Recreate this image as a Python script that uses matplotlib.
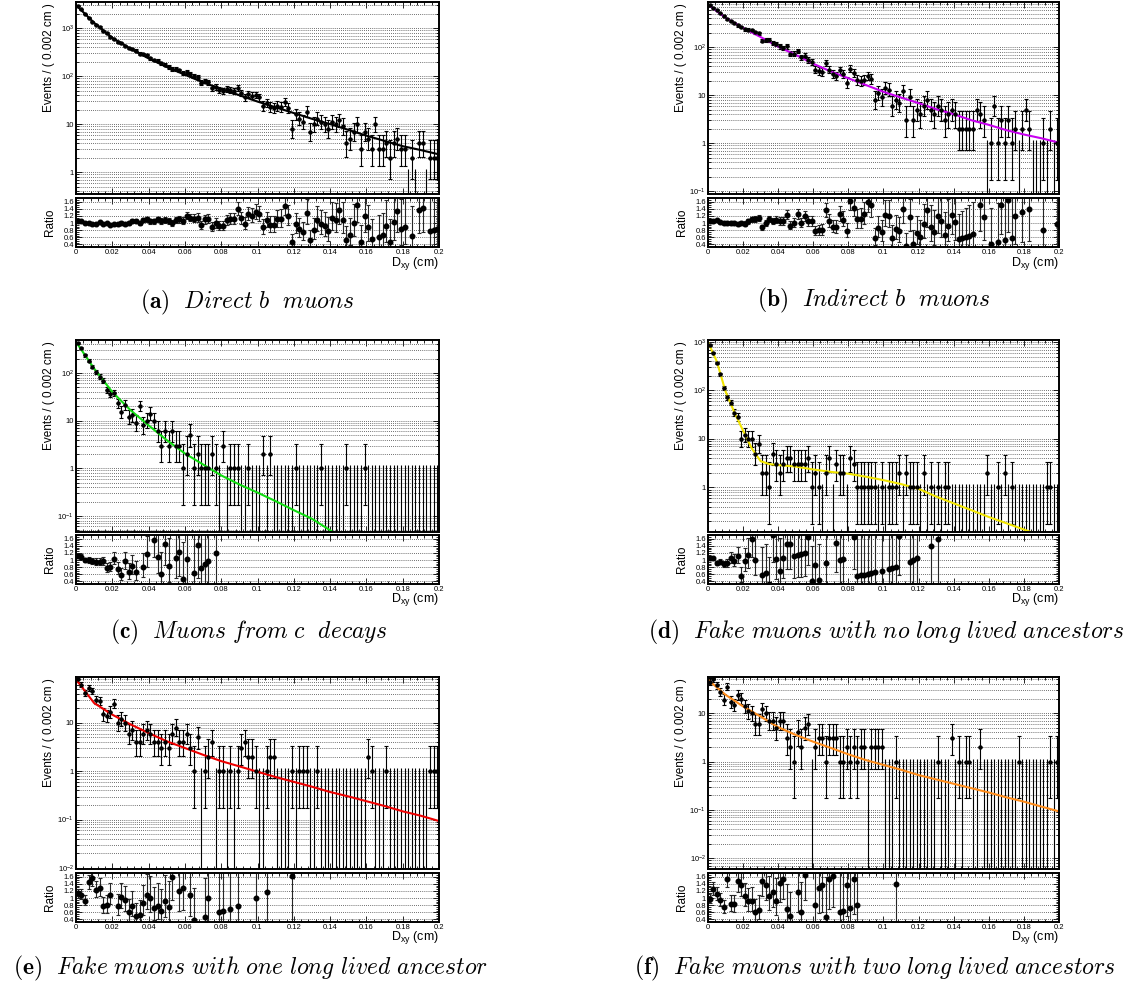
import math
import numpy as np
import matplotlib
matplotlib.use("Agg")
import matplotlib.pyplot as plt
from matplotlib.ticker import MultipleLocator, LogLocator, FuncFormatter, NullFormatter

plt.rcParams['font.family'] = ['Liberation Sans', 'DejaVu Sans']
plt.rcParams['mathtext.fontset'] = 'custom'
plt.rcParams['mathtext.rm'] = 'Liberation Sans'
plt.rcParams['mathtext.it'] = 'Liberation Sans:italic'
plt.rcParams['mathtext.bf'] = 'Liberation Sans:bold'

W, H = 1136, 994
bin_width = 0.002
n_bins = 100

# fit curves are sampled every 0.01 cm
fit_x = [0.0, 0.01, 0.02, 0.03, 0.04, 0.05, 0.06, 0.07, 0.08, 0.09, 0.10,
         0.11, 0.12, 0.13, 0.14, 0.15, 0.16, 0.17, 0.18, 0.19, 0.20]
# panel (d) has a sharp knee, so it is sampled finer at small D_xy
fit_x_d = [0.0, 0.005, 0.01, 0.015, 0.02, 0.025, 0.03, 0.035, 0.04, 0.05, 0.06,
           0.07, 0.08, 0.09, 0.10, 0.11, 0.12, 0.13, 0.14, 0.15, 0.16, 0.17,
           0.18, 0.19, 0.20]

# (a) direct b muons
counts_a = [2910, 2460, 1970, 1660, 1370, 1176, 1061, 882, 782, 644,
            580, 522, 484, 423, 392, 373, 340, 295, 291, 270,
            236, 217, 210, 184, 174, 156, 139, 139, 132, 117,
            124, 110, 100, 95, 73, 79, 75, 57, 59, 51,
            48, 53, 52, 49, 57, 44, 36, 43, 39, 40,
            36, 24, 28, 23, 22, 24, 23, 29, 22, 8,
            16, 13, 11, 18, 7, 10, 13, 11, 10, 8,
            11, 10, 12, 9, 4, 5, 7, 10, 3, 7,
            5, 3, 10, 3, 3, 4, 2, 4, 5, 3,
            3, 0, 2, 0, 4, 4, 0, 2, 2, 2]
fit_a = [3020, 1290, 630, 372, 234, 155, 107, 74, 54, 40, 29.5,
         22.4, 17, 12.9, 10, 7.6, 5.75, 4.47, 3.47, 2.88, 2.34]

# (b) indirect b muons
counts_b = [756, 666, 603, 502, 434, 388, 352, 320, 284, 264,
            235, 231, 222, 204, 194, 136, 141, 142, 123, 116,
            103, 96, 103, 72, 72, 83, 61, 66, 54, 49,
            34, 32, 30, 47, 34, 27, 25, 33, 27, 18,
            35, 29, 21, 20, 21, 25, 22, 8, 11, 9,
            14, 13, 6, 8, 7, 12, 3, 9, 3, 5,
            4, 6, 8, 5, 4, 6, 5, 3, 4, 5,
            4, 2, 2, 2, 2, 2, 5, 4, 3, 0,
            1, 6, 1, 3, 1, 3, 1, 2, 0, 2,
            5, 2, 0, 0, 0, 1, 0, 2, 0, 1]
fit_b = [770, 407, 251, 162, 102, 69, 45, 31, 22.4, 16.2, 11.7,
         8.9, 6.8, 5.1, 4.0, 3.0, 2.4, 1.86, 1.51, 1.26, 1.02]

# (c) muons from c decays
counts_c = [432, 333, 234, 181, 136, 104, 83, 68, 44, 36,
            38, 23, 15, 21, 12, 13, 9, 20, 8, 10,
            14, 10, 6, 3, 6, 3, 6, 3, 3, 1,
            2, 5, 1, 2, 1, 1, 1, 2, 1, 0,
            3, 0, 1, 1, 1, 0, 0, 1, 0, 0,
            0, 2, 0, 2, 0, 0, 0, 0, 0, 0,
            1, 0, 0, 0, 0, 0, 0, 1, 0, 0,
            0, 0, 0, 0, 1, 0, 0, 0, 0, 1,
            0, 0, 0, 0, 0, 0, 0, 0, 0, 0,
            0, 0, 0, 0, 0, 0, 0, 0, 0, 0]
fit_c = [447, 123, 39.8, 16.6, 7.94, 3.89, 2.04, 1.20, 0.708, 0.457, 0.309,
         0.204, 0.132, 0.0871, 0.0501, 0.0282, 0.0151, 0.00794, 0.00417,
         0.00219, 0.00112]

# (d) fake muons, no long lived ancestors
counts_d = [870, 604, 366, 214, 112, 72, 56, 35, 28, 10,
            12, 10, 10, 5, 8, 2, 2, 1, 5, 3,
            2, 3, 4, 4, 3, 3, 3, 3, 4, 1,
            2, 1, 0, 2, 4, 0, 3, 2, 2, 0,
            4, 3, 1, 1, 1, 1, 1, 1, 0, 1,
            0, 1, 1, 1, 2, 0, 2, 1, 1, 1,
            0, 2, 0, 1, 0, 1, 0, 1, 1, 0,
            0, 0, 0, 0, 0, 0, 0, 0, 0, 2,
            0, 0, 1, 0, 2, 0, 1, 0, 0, 0,
            0, 0, 0, 0, 0, 0, 1, 1, 0, 0]
fit_d = [1000, 398, 95.5, 35.5, 14.8, 6.31, 3.47, 3.02, 2.88, 2.69, 2.34,
         2.09, 1.91, 1.66, 1.41, 1.17, 0.933, 0.646, 0.468, 0.339, 0.245,
         0.182, 0.135, 0.1, 0.0741]

# (e) fake muons, one long lived ancestor
counts_e = [80, 62, 42, 52, 45, 30, 28, 15, 14, 17,
            25, 10, 12, 10, 6, 7, 4, 4, 6, 7,
            6, 4, 4, 3, 4, 3, 6, 8, 4, 4,
            6, 3, 1, 5, 0, 1, 2, 4, 0, 1,
            1, 0, 1, 0, 1, 3, 4, 2, 2, 1,
            0, 0, 1, 2, 2, 0, 0, 0, 0, 1,
            0, 1, 1, 1, 0, 0, 1, 0, 0, 0,
            0, 0, 0, 0, 0, 0, 0, 0, 0, 0,
            2, 1, 0, 0, 0, 1, 0, 0, 0, 0,
            0, 0, 0, 0, 0, 0, 0, 1, 1, 1]
fit_e = [79.4, 25.7, 14.8, 9.33, 6.17, 4.17, 3.02, 2.19, 1.62, 1.26, 0.977,
         0.759, 0.603, 0.479, 0.372, 0.302, 0.240, 0.191, 0.148, 0.120,
         0.0933]

# (f) fake muons, two long lived ancestors
counts_f = [45, 50, 38, 28, 19, 35, 17, 15, 24, 20,
            14, 11, 10, 6, 6, 12, 10, 7, 7, 5,
            7, 7, 3, 2, 1, 4, 2, 5, 6, 0,
            2, 3, 3, 1, 3, 3, 3, 1, 1, 2,
            1, 2, 1, 2, 2, 0, 2, 2, 2, 2,
            0, 0, 0, 1, 0, 0, 0, 0, 0, 0,
            0, 0, 0, 0, 0, 1, 0, 0, 0, 3,
            0, 1, 0, 1, 1, 0, 0, 2, 0, 0,
            0, 0, 0, 0, 0, 0, 0, 0, 1, 0,
            0, 0, 0, 0, 0, 0, 0, 1, 0, 1]
fit_f = [49, 24, 13.8, 8.51, 5.13, 3.55, 2.57, 1.91, 1.41, 1.07, 0.851,
         0.676, 0.525, 0.427, 0.347, 0.282, 0.229, 0.182, 0.148, 0.117,
         0.0933]

letters = ['a', 'b', 'c', 'd', 'e', 'f']
captions = ['Direct b  muons', 'Indirect b  muons', 'Muons from c  decays',
            'Fake muons with no long lived ancestors',
            'Fake muons with one long lived ancestor',
            'Fake muons with two long lived ancestors']


def poisson_interval(n):
    # 68% central interval, zero bins get the one sided 1.148 upper limit
    if n == 0:
        return 0.0, 1.1479
    if n >= 25:
        s = math.sqrt(n)
        return n - s + 0.5, n + s + 0.5

    def cdf(k, mu):
        return sum(math.exp(-mu + i * math.log(mu) - math.lgamma(i + 1)) for i in range(k + 1))

    alpha = 0.158655
    a, b = 1e-9, float(n)
    for _ in range(60):
        m = 0.5 * (a + b)
        if cdf(n - 1, m) > 1 - alpha:
            a = m
        else:
            b = m
    lo = 0.5 * (a + b)
    a, b = float(n), n + 10 * math.sqrt(n) + 10
    for _ in range(60):
        m = 0.5 * (a + b)
        if cdf(n, m) > alpha:
            a = m
        else:
            b = m
    return lo, 0.5 * (a + b)


def rect(x0, x1, y0, y1):
    return [x0 / W, 1 - y1 / H, (x1 - x0) / W, (y1 - y0) / H]


def decade_label(v, pos):
    if abs(v - 1) < 1e-9:
        return '1'
    if abs(v - 10) < 1e-9:
        return '10'
    return r'$10^{%d}$' % round(math.log10(v))


def style_ticks(ax):
    ax.tick_params(which='both', direction='in', top=True, right=True,
                   labelsize=5.5, width=0.6, pad=1.5)
    ax.tick_params(which='major', length=4)
    ax.tick_params(which='minor', length=2)
    for s in ax.spines.values():
        s.set_linewidth(1.4)


def draw_panel(fig, col, row, counts, fx, fy, color, ylim, letter, caption, cap_pos):
    x0, x1 = col
    mt, mb, rt, rb = row
    counts = np.array(counts, dtype=float)
    xc = np.arange(n_bins) * bin_width + bin_width / 2
    lo, hi = np.array([poisson_interval(int(c)) for c in counts]).T
    nz = counts > 0

    ax = fig.add_axes(rect(x0, x1, mt, mb))
    ax.set_yscale('log')
    ax.set_xlim(0, 0.2)
    ax.set_ylim(*ylim)
    ax.set_axisbelow(True)
    ax.yaxis.set_major_locator(LogLocator(base=10, numticks=20))
    ax.yaxis.set_minor_locator(LogLocator(base=10, subs=np.arange(2, 10), numticks=20))
    ax.yaxis.set_major_formatter(FuncFormatter(decade_label))
    ax.yaxis.set_minor_formatter(NullFormatter())
    ax.xaxis.set_major_locator(MultipleLocator(0.02))
    ax.xaxis.set_minor_locator(MultipleLocator(0.004))
    ax.tick_params(axis='x', labelbottom=False)
    ax.grid(axis='y', which='both', linestyle=(0, (1, 1.5)), linewidth=0.6, color='0.25')
    style_ticks(ax)

    ax.errorbar(xc[nz], counts[nz], xerr=bin_width / 2, fmt='none', ecolor='black',
                elinewidth=0.8, capsize=0)
    ax.errorbar(xc[nz], counts[nz], yerr=[counts[nz] - lo[nz], hi[nz] - counts[nz]],
                fmt='o', ms=2.2, color='black', ecolor='black', elinewidth=0.8,
                capsize=1.2, capthick=0.8)
    ax.vlines(xc[~nz], ylim[0], hi[~nz], color='black', linewidth=0.8)
    ax.plot(fx, fy, color=color, linewidth=1.5)

    fig.text((x0 - 27) / W, 1 - (mt + 1) / H, 'Events / ( 0.002 cm )', rotation=90,
             ha='center', va='top', fontsize=8.5)

    # data over fit, only points that land inside the ratio window
    fit_at_bins = 10 ** np.interp(xc, fx, np.log10(fy))
    ratio = counts / fit_at_bins
    rlim = (0.33, 1.7)
    shown = nz & (ratio > rlim[0]) & (ratio < rlim[1])
    rax = fig.add_axes(rect(x0, x1, rt, rb))
    rax.set_xlim(0, 0.2)
    rax.set_ylim(*rlim)
    rax.set_axisbelow(True)
    rax.yaxis.set_major_locator(MultipleLocator(0.2))
    rax.yaxis.set_minor_locator(MultipleLocator(0.05))
    rax.xaxis.set_major_locator(MultipleLocator(0.02))
    rax.xaxis.set_minor_locator(MultipleLocator(0.004))
    fmt = FuncFormatter(lambda v, p: '%g' % round(v, 3))
    rax.yaxis.set_major_formatter(fmt)
    rax.xaxis.set_major_formatter(fmt)
    rax.grid(axis='y', which='major', linestyle=(0, (1, 1.5)), linewidth=0.6, color='0.25')
    style_ticks(rax)
    rax.errorbar(xc[shown], ratio[shown],
                 yerr=[(counts[shown] - lo[shown]) / fit_at_bins[shown],
                       (hi[shown] - counts[shown]) / fit_at_bins[shown]],
                 fmt='o', ms=3.3, color='black', ecolor='0.15', elinewidth=0.8,
                 capsize=1.2, capthick=0.8)
    fig.text((x0 - 26) / W, 1 - (rt + rb) / 2 / H, 'Ratio', rotation=90,
             ha='center', va='center', fontsize=8.5)
    fig.text(x1 / W, 1 - (rb + 16) / H, r'D$_{\rm xy}$ (cm)', ha='right',
             va='center', fontsize=9)

    words = caption.replace(' ', r'\ ')
    fig.text(cap_pos[0] / W, 1 - cap_pos[1] / H,
             r'$\mathbf{(%s)}\ \ \mathit{%s}$' % (letter, words),
             ha='center', va='center', fontsize=17, math_fontfamily='cm')


fig = plt.figure(figsize=(W / 100, H / 100), dpi=100)

left = (76, 439)
right = (708, 1059)
rows = [(2, 194, 198, 247), (340, 532, 535, 584), (677, 869, 873, 922)]
cap_xy = [(247, 302), (874, 300), (249, 632), (886, 632), (250, 968), (875, 968)]

panels = [
    (left, rows[0], counts_a, fit_x, fit_a, 'black', (0.35, 3500)),
    (right, rows[0], counts_b, fit_x, fit_b, '#c800f0', (0.087, 870)),
    (left, rows[1], counts_c, fit_x, fit_c, '#11dd11', (0.046, 490)),
    (right, rows[1], counts_d, fit_x_d, fit_d, '#f2e600', (0.12, 1100)),
    (left, rows[2], counts_e, fit_x, fit_e, '#ee0000', (0.0095, 89)),
    (right, rows[2], counts_f, fit_x, fit_f, '#ff8c1a', (0.006, 56)),
]

for i, (col, row, cnt, fx, fy, color, ylim) in enumerate(panels):
    draw_panel(fig, col, row, cnt, fx, fy, color, ylim, letters[i], captions[i], cap_xy[i])

fig.savefig('out.png', dpi=100)
